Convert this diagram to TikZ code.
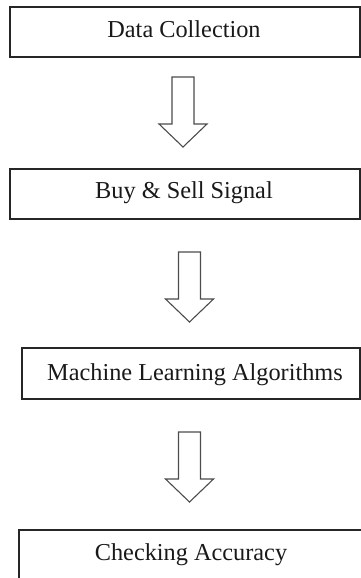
\documentclass[tikz,border=0pt]{standalone}
\usepackage{fontspec}
\setmainfont{Liberation Serif}
\begin{document}
\begin{tikzpicture}[x=1pt, y=-1pt,
  stagebox/.style={draw=black!85, line width=1.4pt, fill=white},
  stagetext/.style={font=\fontsize{24.3}{29}\selectfont, text=black!90, inner sep=0pt, anchor=base},
  blockarrow/.style={draw=black!70, line width=1.1pt, fill=white, line join=miter},
  downarrow/.pic={\draw[blockarrow] (-11,0) -- (11,0) -- (11,47) -- (24,47) -- (0,70)
                    -- (-24,47) -- (-11,47) -- cycle;}]
\useasboundingbox (0,0) rectangle (361,578);

% stage boxes
\draw[stagebox] (10,7) rectangle (360,57);
\node[stagetext] (collect) at (184,37.5) {Data Collection};

\draw[stagebox] (10,169) rectangle (360,219);
\node[stagetext] (signal) at (184,198.5) {Buy \& Sell Signal};

\draw[stagebox] (22,348) rectangle (360,399);
\node[stagetext] (learn) at (195,380.5) {Machine Learning Algorithms};

\draw[stagebox] (19,530) rectangle (370,595);
\node[stagetext] (accuracy) at (191,560) {Checking Accuracy};

% hollow block arrows between the stages
\coordinate (a1) at (183,77);
\coordinate (a2) at (189.5,252);
\coordinate (a3) at (189.5,432);
\pic at (a1) {downarrow};
\pic at (a2) {downarrow};
\pic at (a3) {downarrow};
\end{tikzpicture}
\end{document}
